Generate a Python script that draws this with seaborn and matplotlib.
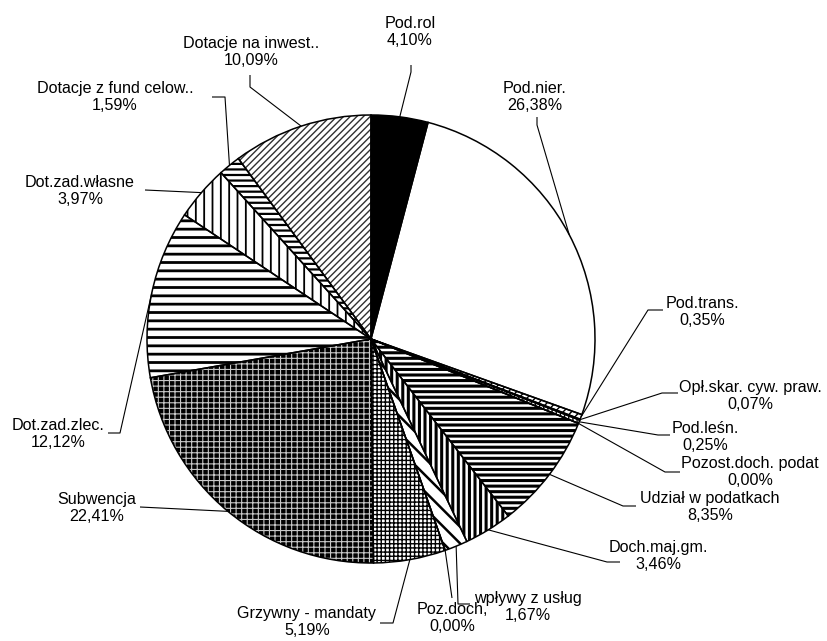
import matplotlib
matplotlib.use("Agg")
import matplotlib.pyplot as plt
import seaborn as sns
import numpy as np

sns.set_theme(style="white")
plt.rcParams['font.family'] = ['Liberation Sans', 'DejaVu Sans']

# ---- data ----
categories = ["Pod.rol", "Pod.nier.", "Pod.trans.", "Opł.skar. cyw. praw.", "Pod.leśn.",
              "Pozost.doch. podat", "Udział w podatkach", "Doch.maj.gm.", "wpływy z usług",
              "Poz.doch,", "Grzywny - mandaty", "Subwencja", "Dot.zad.zlec.",
              "Dot.zad.własne", "Dotacje z fund celow..", "Dotacje na inwest.."]
values = [4.10, 26.38, 0.35, 0.07, 0.25, 0.00, 8.35, 3.46, 1.67, 0.00, 5.19, 22.41,
          12.12, 3.97, 1.59, 10.09]
value_labels = ["4,10%", "26,38%", "0,35%", "0,07%", "0,25%", "0,00%", "8,35%", "3,46%",
                "1,67%", "0,00%", "5,19%", "22,41%", "12,12%", "3,97%", "1,59%", "10,09%"]

# ---- styles ----
faces = ["black", "white", "white", "white", "white", "white", "white", "white", "white",
         "white", "white", "black", "white", "white", "white", "white"]
hatches = [None, None, "////", "....", "||||", None, "---", "|||", "\\\\", None,
           "++++", "+++", "--", "||", "---", "/////"]
hatch_cols = ["black", "black", "black", "black", "black", "black", "black", "black",
              "black", "black", "black", "#c8c8c8", "black", "black", "black", "#303030"]
hatch_lw = [1, 1, 1, 1, 1, 1, 2.2, 2.2, 1.8, 1, 1.0, 0.8, 2.0, 1.3, 1.6, 1.0]

W, H = 828, 641
CX, CY, R = 371, 339, 224

def px(x, y):
    return ((x - CX) / R, (CY - y) / R)

# text centres and leader-line knee points (pixel layout)
text_pos = [(410, 32), (535, 97), (702, 312), (750, 396), (705, 437), (750, 472),
            (710, 507), (658, 556), (528, 607), (452, 618), (307, 622), (97, 508),
            (58, 434), (80, 191), (115, 97), (251, 52)]
knees = [[(411, 72), (411, 65)], [(537, 125), (537, 117)], [(648, 310), (663, 310)],
         [(662, 393), (678, 393)], [(658, 435), (670, 435)], [(665, 472), (680, 472)],
         [(623, 506), (636, 506)], [(607, 562), (620, 562)], [(458, 604), (470, 604)],
         [(452, 598)], [(393, 623), (380, 623)], [(140, 507)],
         [(120, 433), (108, 433)], [(145, 190)], [(225, 97), (212, 97)],
         [(250, 87), (250, 75)]]

plt.rcParams['hatch.linewidth'] = 1.6
fig = plt.figure(figsize=(W / 100, H / 100), dpi=100)
ax = fig.add_axes([0, 0, 1, 1])

wedges, _ = ax.pie(values, startangle=90, counterclock=False, radius=1,
                   colors=faces, wedgeprops=dict(linewidth=0))
for w, h, hc, lw in zip(wedges, hatches, hatch_cols, hatch_lw):
    if h:
        w.set_hatch(h)
        w.set_edgecolor(hc)
        if hasattr(w, "set_hatch_linewidth"):
            w.set_hatch_linewidth(lw)
    else:
        w.set_edgecolor("none")

outl, _ = ax.pie(values, startangle=90, counterclock=False, radius=1,
                 colors=["none"] * len(values),
                 wedgeprops=dict(linewidth=1.1, edgecolor="black", fill=False))

for w, name, vl, tp, kn in zip(wedges, categories, value_labels, text_pos, knees):
    ang = np.deg2rad((w.theta1 + w.theta2) / 2)
    ax_, ay_ = np.cos(ang), np.sin(ang)
    pts = [(ax_, ay_)] + [px(*k) for k in kn]
    xs, ys = zip(*pts)
    ax.plot(xs, ys, color="black", lw=0.8, solid_capstyle="butt")
    tx, ty = px(*tp)
    ax.text(tx, ty, f"{name}\n{vl}", ha="center", va="center", ma="center",
            fontsize=11.6, color="black", linespacing=1.15)

ax.set_xlim(-CX / R, (W - CX) / R)
ax.set_ylim(-(H - CY) / R, CY / R)
ax.set_aspect("auto")
ax.axis("off")
fig.savefig("out.png", dpi=100, facecolor="white")
